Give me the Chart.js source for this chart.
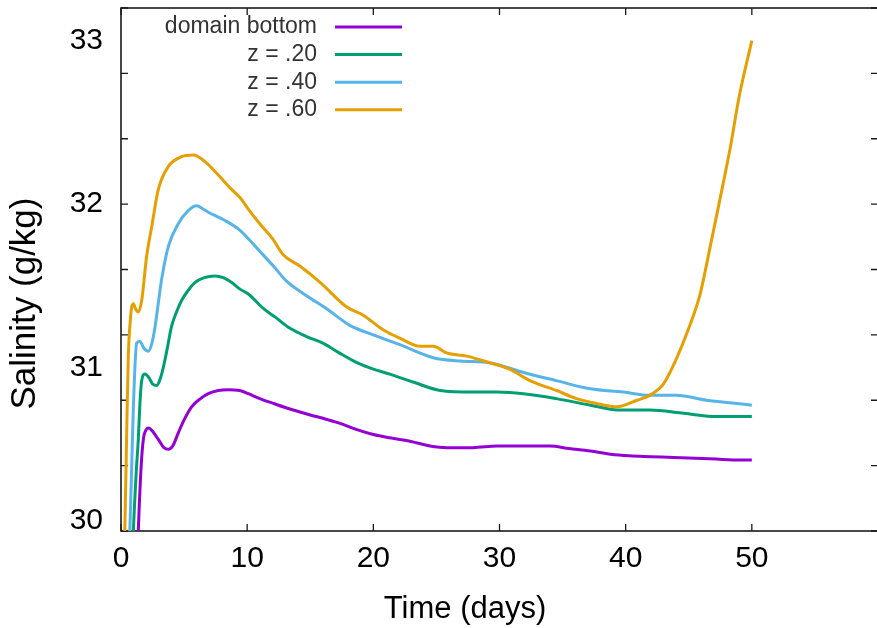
<!DOCTYPE html>
<html>
<head>
<meta charset="utf-8">
<title>Salinity vs time</title>
<script src="https://cdn.jsdelivr.net/npm/chart.js@4"></script>
<style>
    html, body { margin: 0; padding: 0; background: #fff; overflow: hidden; }
    .chart-wrap { width: 880px; height: 628px; }
</style>
</head>
<body>
<div class="chart-wrap"><canvas id="salinityChart"></canvas></div>
<script>
/**
 * Salinity time series at the domain bottom and three depths
 */

const seriesLabels = ['domain bottom', 'z = .20', 'z = .40', 'z = .60'];
const seriesColors = ['#9400d3', '#009e73', '#56b4e9', '#e69f00'];

const bottomDays = [1.2, 1.37, 1.6, 1.77, 2.0, 2.2, 2.5, 2.96, 3.4, 3.75, 4.1, 4.54, 5.0, 5.6, 6.3, 6.92, 7.7, 8.5, 9.4, 10.1, 11.0, 12.1, 13.65, 15.0, 16.0, 17.3, 18.7, 20.0, 21.3, 22.5, 23.4, 24.5, 25.8, 27.9, 29.8, 32.0, 34.0, 35.5, 37.2, 38.8, 40.3, 42.0, 43.8, 45.5, 47.2, 48.5, 50.0];
const bottomSalinity = [29.6, 30.0, 30.4, 30.56, 30.62, 30.63, 30.61, 30.56, 30.51, 30.5, 30.52, 30.6, 30.68, 30.76, 30.81, 30.84, 30.86, 30.865, 30.86, 30.84, 30.81, 30.78, 30.74, 30.71, 30.69, 30.66, 30.62, 30.59, 30.57, 30.555, 30.54, 30.52, 30.51, 30.51, 30.52, 30.52, 30.52, 30.505, 30.49, 30.47, 30.46, 30.455, 30.45, 30.445, 30.44, 30.435, 30.435];

const z20Days = [0.8, 0.98, 1.2, 1.37, 1.5, 1.64, 1.9, 2.2, 2.5, 2.83, 3.1, 3.35, 3.7, 4.0, 4.4, 4.8, 5.3, 5.86, 6.6, 7.45, 8.1, 8.77, 9.43, 10.09, 11.3, 12.2, 13.4, 14.7, 16.0, 17.3, 18.7, 20.0, 21.3, 23.2, 25.3, 27.9, 29.8, 31.9, 34.5, 37.2, 39.4, 41.9, 44.6, 47.2, 50.0];
const z20Salinity = [29.6, 30.0, 30.35, 30.56, 30.78, 30.92, 30.96, 30.94, 30.9, 30.89, 30.93, 31.0, 31.13, 31.25, 31.34, 31.41, 31.47, 31.52, 31.55, 31.56, 31.55, 31.52, 31.48, 31.45, 31.36, 31.31, 31.24, 31.19, 31.15, 31.09, 31.03, 30.99, 30.96, 30.91, 30.86, 30.85, 30.85, 30.84, 30.81, 30.77, 30.74, 30.74, 30.72, 30.7, 30.7];

const z40Days = [0.5, 0.7, 0.85, 0.98, 1.1, 1.24, 1.5, 1.8, 2.17, 2.45, 2.7, 3.0, 3.22, 3.75, 4.54, 5.33, 6.0, 6.5, 6.92, 8.24, 9.43, 10.9, 12.2, 13.1, 14.7, 16.3, 18.1, 20.0, 22.1, 24.75, 26.9, 29.2, 31.9, 34.5, 37.2, 39.8, 41.9, 44.0, 46.4, 48.8, 50.0];
const z40Salinity = [29.6, 30.0, 30.4, 30.76, 31.0, 31.15, 31.16, 31.12, 31.1, 31.15, 31.25, 31.42, 31.54, 31.74, 31.88, 31.96, 31.99, 31.97, 31.95, 31.9, 31.84, 31.72, 31.61, 31.53, 31.44, 31.36, 31.26, 31.2, 31.14, 31.06, 31.04, 31.03, 30.97, 30.92, 30.87, 30.85, 30.83, 30.83, 30.8, 30.78, 30.77];

const z60Days = [0.1, 0.3, 0.45, 0.58, 0.75, 0.85, 0.98, 1.15, 1.37, 1.64, 2.03, 2.43, 2.96, 3.75, 4.8, 5.73, 6.66, 7.45, 8.77, 9.43, 10.09, 11.0, 12.0, 12.86, 14.2, 15.8, 17.9, 19.2, 20.8, 22.1, 23.7, 24.75, 25.8, 27.4, 29.2, 30.8, 32.4, 34.5, 36.1, 37.7, 39.3, 40.9, 41.9, 43.0, 44.0, 45.0, 45.9, 46.7, 47.5, 48.3, 49.0, 50.0];
const z60Salinity = [29.6, 30.0, 30.6, 31.07, 31.3, 31.37, 31.39, 31.36, 31.34, 31.41, 31.68, 31.86, 32.09, 32.23, 32.29, 32.3, 32.26, 32.2, 32.09, 32.04, 31.97, 31.88, 31.79, 31.69, 31.62, 31.52, 31.37, 31.32, 31.23, 31.18, 31.13, 31.13, 31.09, 31.07, 31.03, 30.99, 30.92, 30.86, 30.81, 30.78, 30.76, 30.8, 30.83, 30.9, 31.05, 31.24, 31.45, 31.74, 32.04, 32.35, 32.66, 33.0];

const xTickLabels = [0, 10, 20, 30, 40, 50];
const yTickLabels = [30, 31, 32, 33];
const yTickMarks = [30, 30.4, 30.8, 31.2, 31.6, 32.0, 32.4, 32.8, 33.2];

const FONT = '"Liberation Sans", Arial, Helvetica, sans-serif';
const NBSP = '\u00a0';

function toPoints(days, values) {
    return days.map((d, i) => ({ x: d, y: values[i] }));
}

/**
 * Border box with inward tick marks on all four sides
 */
const frameTicks = {
    id: 'frameTicks',
    beforeDatasetsDraw(chart) {
        const { ctx, chartArea: a, scales: { x, y } } = chart;
        const len = 7;
        ctx.save();
        ctx.strokeStyle = '#1a1a1a';
        ctx.lineWidth = 1.6;
        ctx.strokeRect(a.left, a.top, a.right - a.left, a.bottom - a.top);

        ctx.lineWidth = 1.3;
        ctx.beginPath();
        x.ticks.forEach(t => {
            const px = x.getPixelForValue(t.value);
            ctx.moveTo(px, a.bottom);
            ctx.lineTo(px, a.bottom - len);
            ctx.moveTo(px, a.top);
            ctx.lineTo(px, a.top + len);
        });
        yTickMarks.forEach(v => {
            const py = y.getPixelForValue(v);
            ctx.moveTo(a.left, py);
            ctx.lineTo(a.left + len, py);
            ctx.moveTo(a.right, py);
            ctx.lineTo(a.right - len, py);
        });
        ctx.stroke();
        ctx.restore();
    }
};

/**
 * Key inside the plot: right-aligned label followed by a line sample
 */
const insideKey = {
    id: 'insideKey',
    afterDatasetsDraw(chart) {
        const { ctx, chartArea: a } = chart;
        const textRight = a.left + 196;
        const lineStart = a.left + 214;
        const lineEnd = a.left + 281;
        ctx.save();
        ctx.font = '23px ' + FONT;
        ctx.textAlign = 'right';
        ctx.textBaseline = 'middle';
        chart.data.datasets.forEach((ds, i) => {
            const rowY = a.top + 19 + i * 27.6;
            ctx.fillStyle = '#333';
            ctx.fillText(ds.label, textRight, rowY);
            ctx.strokeStyle = ds.borderColor;
            ctx.lineWidth = 3;
            ctx.beginPath();
            ctx.moveTo(lineStart, rowY);
            ctx.lineTo(lineEnd, rowY);
            ctx.stroke();
        });
        ctx.restore();
    }
};

const seriesPoints = [
    toPoints(bottomDays, bottomSalinity),
    toPoints(z20Days, z20Salinity),
    toPoints(z40Days, z40Salinity),
    toPoints(z60Days, z60Salinity)
];

new Chart(document.getElementById('salinityChart'), {
    type: 'line',
    data: {
        datasets: seriesLabels.map((label, i) => ({
            label: label,
            data: seriesPoints[i],
            borderColor: seriesColors[i],
            borderWidth: 3,
            pointRadius: 0,
            cubicInterpolationMode: 'monotone',
            fill: false,
            order: seriesLabels.length - i
        }))
    },
    options: {
        responsive: true,
        maintainAspectRatio: false,
        animation: false,
        layout: { padding: { top: 8, right: 2, left: 0, bottom: 0 } },
        plugins: {
            legend: { display: false },
            tooltip: { enabled: false }
        },
        scales: {
            x: {
                type: 'linear',
                min: 0,
                max: 60,
                afterBuildTicks: scale => {
                    scale.ticks = xTickLabels.concat([60]).map(v => ({ value: v }));
                },
                afterFit: scale => {
                    scale.height = 97;
                    scale.paddingLeft = 0;
                    scale.paddingRight = 0;
                },
                grid: { display: false, drawTicks: false },
                border: { display: false },
                ticks: {
                    padding: 10,
                    color: '#000',
                    maxRotation: 0,
                    autoSkip: false,
                    font: { family: FONT, size: 30 },
                    callback: v => (xTickLabels.includes(v) ? String(v) : '')
                },
                title: {
                    display: true,
                    text: 'Time (days)' + NBSP.repeat(8),
                    color: '#000',
                    font: { family: FONT, size: 31 },
                    padding: { top: 0, bottom: 0 }
                }
            },
            y: {
                type: 'linear',
                min: 30,
                max: 33.2,
                afterBuildTicks: scale => {
                    scale.ticks = yTickLabels.map(v => ({ value: v }));
                },
                afterFit: scale => {
                    scale.width = 121;
                    scale.paddingTop = 0;
                    scale.paddingBottom = 0;
                },
                grid: { display: false, drawTicks: false },
                border: { display: false },
                ticks: {
                    padding: 18,
                    color: '#000',
                    autoSkip: false,
                    font: { family: FONT, size: 30, lineHeight: 0.67 },
                    // lowest label sits just above the corner
                    callback: v => (v === 30 ? ['30', ''] : String(v))
                },
                title: {
                    display: true,
                    text: 'Salinity (g/kg)' + NBSP.repeat(7),
                    color: '#000',
                    font: { family: FONT, size: 35 },
                    padding: { top: 4, bottom: 0 }
                }
            }
        }
    },
    plugins: [frameTicks, insideKey]
});
</script>
</body>
</html>
